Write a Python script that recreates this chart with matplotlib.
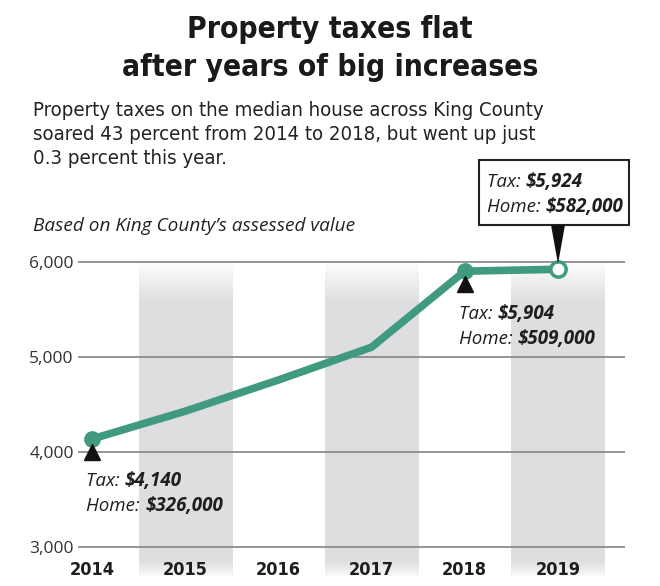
import numpy as np
import matplotlib
matplotlib.use("Agg")
import matplotlib.pyplot as plt
from matplotlib.patches import Polygon, Rectangle

years = [2014, 2015, 2016, 2017, 2018, 2019]
tax = [4140, 4432, 4760, 5105, 5904, 5924]
y_ticks = [3000, 4000, 5000, 6000]
shaded_years = [2015, 2017, 2019]
marked_years = [2014, 2018]
notes = {2014: ("$4,140", "$326,000"), 2018: ("$5,904", "$509,000"), 2019: ("$5,924", "$582,000")}

TEAL = "#3f9a7f"
INK = "#1e1e1e"
COND = dict(family="DejaVu Sans", fontstretch="condensed")
ITAL = dict(family=["Open Sans", "DejaVu Sans"], style="italic")

W, H = 660, 586
fig = plt.figure(figsize=(W / 100, H / 100), dpi=100)

# axes in pixel terms: x 78..625, y 233.5..576 (3000 at y=547, 6000 at y=262)
x0, x1 = 2013.85, 2019.72
y0, y1 = 2700, 6300
ax = fig.add_axes([78 / W, (H - 576) / H, (625 - 78) / W, (576 - 233.5) / H])
for s in ax.spines.values():
    s.set_visible(False)

# shaded year bands, faded at the top and bottom
n = 200
alpha = np.ones(n)
alpha[-28:] = np.linspace(1, 0, 28)
alpha[:10] = np.linspace(0.2, 1, 10)
for yr in shaded_years:
    rgba = np.zeros((n, 1, 4))
    rgba[..., :3] = [0.872, 0.872, 0.882]
    rgba[:, 0, 3] = alpha
    ax.imshow(rgba, extent=[yr - 0.5, yr + 0.5, 2700, 6030], origin="lower",
              aspect="auto", zorder=0, interpolation="bilinear")
ax.set_xlim(x0, x1)
ax.set_ylim(y0, y1)

for v in y_ticks:
    ax.axhline(v, color="#8c8c8c", lw=1.3, zorder=1)

ax.set_yticks(y_ticks)
ax.set_yticklabels([f"{v:,}" for v in y_ticks], fontsize=12.5, color="#333333",
                   family=["Open Sans", "DejaVu Sans"])
ax.tick_params(axis="y", length=0, pad=3)
ax.set_xticks([])
for yr in years:
    ax.text(yr, 2765, str(yr), ha="center", va="center", fontsize=13,
            fontweight="bold", color=INK, zorder=6, **COND)

# line and markers
ax.plot(years, tax, color=TEAL, lw=5.5, zorder=3)
ax.plot(marked_years, [tax[years.index(y)] for y in marked_years], "o",
        color=TEAL, ms=11, zorder=4)
ax.plot(years[-1], tax[-1], "o", mfc="white", mec=TEAL, mew=2.5, ms=11, zorder=4)

# up-pointing triangles under 2014 and 2018
for yr in marked_years:
    ax.plot(yr, tax[years.index(yr)] - 135, marker="^", color="#111111", ms=11, zorder=5)

# notes for 2014 and 2018
for key, (xx, yy) in {2014: (2013.94, 3645), 2018: (2017.94, 5405)}.items():
    t, h = notes[key]
    ax.text(xx, yy, "Tax: ", fontsize=13.5, color=INK, zorder=6, **ITAL)
    ax.text(xx + 0.41, yy, t, fontsize=13.5, fontweight="bold", color=INK,
            zorder=6, **ITAL)
    ax.text(xx, yy - 265, "Home: ", fontsize=13.5, color=INK, zorder=6, **ITAL)
    ax.text(xx + 0.63, yy - 265, h, fontsize=13.5, fontweight="bold", color=INK,
            zorder=6, **ITAL)

# callout box for 2019
bx0, bx1 = 479, 629
by0, by1 = 160, 225
fig.add_artist(Rectangle((bx0 / W, 1 - by1 / H), (bx1 - bx0) / W, (by1 - by0) / H,
                         transform=fig.transFigure, fc="white", ec="#222222", lw=1.5))
px = 558
fig.add_artist(Polygon([((px - 7) / W, 1 - by1 / H), ((px + 7) / W, 1 - by1 / H),
                        (px / W, 1 - 264 / H)], closed=True,
                       transform=fig.transFigure, fc="#111111", ec="none"))
t, h = notes[2019]
fig.text(487 / W, 1 - 182 / H, "Tax: ", fontsize=13.5, va="center", color=INK, **ITAL)
fig.text(526 / W, 1 - 182 / H, t, fontsize=13.5, fontweight="bold", va="center",
         color=INK, **ITAL)
fig.text(487 / W, 1 - 207 / H, "Home: ", fontsize=13.5, va="center", color=INK, **ITAL)
fig.text(546 / W, 1 - 207 / H, h, fontsize=13.5, fontweight="bold", va="center",
         color=INK, **ITAL)

# titles
fig.text(0.5, 1 - 30 / H, "Property taxes flat", ha="center", va="center",
         fontsize=21.5, fontweight="bold", color="#1a1a1a", **COND)
fig.text(0.5, 1 - 67 / H, "after years of big increases", ha="center", va="center",
         fontsize=21.5, fontweight="bold", color="#1a1a1a", **COND)
sub = ["Property taxes on the median house across King County",
       "soared 43 percent from 2014 to 2018, but went up just",
       "0.3 percent this year."]
for i, line in enumerate(sub):
    fig.text(33 / W, 1 - (110 + i * 24) / H, line, ha="left", va="center",
             fontsize=14.6, color="#222222", **COND)
fig.text(33 / W, 1 - 226 / H, "Based on King County\u2019s assessed value", ha="left",
         va="center", fontsize=13.7, color="#222222", **ITAL)

fig.savefig("out.png", dpi=100)
